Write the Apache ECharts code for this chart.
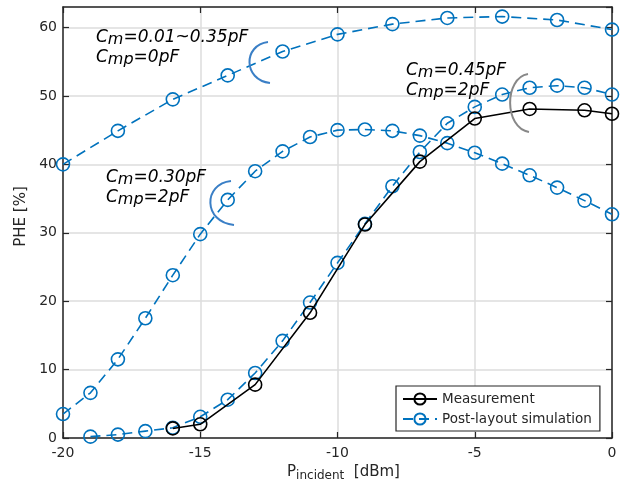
<!DOCTYPE html>
<html><head><meta charset="utf-8">
<script src="https://cdn.jsdelivr.net/npm/echarts@6/dist/echarts.min.js"></script>
<style>html,body{margin:0;padding:0;background:#fff}#c{width:624px;height:487px}</style>
</head><body><div id="c"></div>
<script>
// ---- data ----
var measX = [-16, -15, -13, -11, -9, -7, -5, -3, -1, 0];
var measY = [1.4, 2.0, 7.8, 18.3, 31.2, 40.4, 46.7, 48.1, 47.9, 47.4];

var simAX = [-20, -18, -16, -14, -12, -10, -8, -6, -4, -2, 0];
var simAY = [40.0, 44.9, 49.5, 53.0, 56.5, 59.0, 60.5, 61.4, 61.6, 61.1, 59.7];

var simBX = [-20, -19, -18, -17, -16, -15, -14, -13, -12, -11, -10, -9, -8, -7, -6, -5, -4, -3, -2, -1, 0];
var simBY = [3.5, 6.6, 11.5, 17.5, 23.8, 29.8, 34.8, 39.0, 41.9, 44.0, 45.0, 45.1, 44.9, 44.2, 43.1, 41.7, 40.1, 38.4, 36.6, 34.7, 32.7];

var simCX = [-19, -18, -17, -16, -15, -14, -13, -12, -11, -10, -9, -8, -7, -6, -5, -4, -3, -2, -1, 0];
var simCY = [0.2, 0.5, 1.0, 1.5, 3.1, 5.6, 9.5, 14.2, 19.8, 25.6, 31.3, 36.8, 41.8, 46.0, 48.4, 50.2, 51.2, 51.5, 51.2, 50.2];

var xTicks = [-20, -15, -10, -5, 0];
var yTicks = [0, 10, 20, 30, 40, 50, 60];
var legendNames = ['Measurement', 'Post-layout simulation'];

function pairs(xs, ys) { return xs.map(function (x, i) { return [x, ys[i]]; }); }

var BLUE = '#0072BD', DARK = '#262626', FONT = 'DejaVu Sans';

function simSeries(xs, ys) {
  return {
    name: legendNames[1], type: 'line', data: pairs(xs, ys),
    symbol: 'circle', symbolSize: 13,
    itemStyle: { color: 'rgba(255,255,255,0)', borderColor: BLUE, borderWidth: 1.6 },
    lineStyle: { color: BLUE, width: 1.6, type: [10, 6] },
    emphasis: { disabled: true }, animation: false, z: 3
  };
}

var chart = echarts.init(document.getElementById('c'), null, { renderer: 'canvas' });

var subRich = {
  n: { fontFamily: FONT, fontStyle: 'italic', fontSize: 17, color: DARK, lineHeight: 20 },
  s: { fontFamily: FONT, fontStyle: 'italic', fontSize: 16, color: DARK, lineHeight: 20, padding: [4, 0, 0, 0] }
};
function annText(x, y, line1, line2) {
  return {
    type: 'text', left: x, top: y, z: 10,
    style: { text: '{n|C}{s|m}{n|' + line1 + '}\n{n|C}{s|mp}{n|' + line2 + '}', rich: subRich }
  };
}
function bracket(p, color) {
  return {
    type: 'bezierCurve', z: 10,
    shape: { x1: p[0], y1: p[1], cpx1: p[2], cpy1: p[3], cpx2: p[4], cpy2: p[5], x2: p[6], y2: p[7] },
    style: { stroke: color, lineWidth: 2, fill: null }
  };
}

chart.setOption({
  animation: false,
  backgroundColor: '#fff',
  grid: { left: 63, right: 12, top: 7, bottom: 49, show: false },
  legend: {
    data: [
      { name: legendNames[0] },
      { name: legendNames[1] }
    ],
    orient: 'vertical', left: 396, top: 386,
    itemWidth: 34, itemHeight: 14, itemGap: 6,
    padding: [6, 8, 5, 6],
    borderColor: DARK, borderWidth: 1.2, backgroundColor: '#fff',
    textStyle: { fontFamily: FONT, fontSize: 13.5, color: DARK }
  },
  xAxis: [{
    type: 'value', min: -20, max: 0, interval: 5, position: 'bottom',
    axisLine: { show: true, onZero: false, lineStyle: { color: DARK, width: 1.5 } },
    axisTick: { show: true, inside: true, length: 6, lineStyle: { color: DARK, width: 1.2 } },
    axisLabel: { fontFamily: FONT, fontSize: 14, color: DARK, margin: 8,
      formatter: function (v) { return xTicks.indexOf(v) >= 0 ? String(v) : ''; } },
    splitLine: { show: true, lineStyle: { color: '#dcdcdc', width: 1.5 } },
    name: '{p|P}{s|incident}{p|  [dBm]}', nameLocation: 'middle', nameGap: 21,
    nameTextStyle: { padding: [0, 0, 0, 12], rich: {
      p: { fontFamily: FONT, fontSize: 15, color: DARK },
      s: { fontFamily: FONT, fontSize: 12, color: DARK, padding: [7, 0, 0, 0] }
    } }
  }, {
    type: 'value', min: -20, max: 0, interval: 5, position: 'top',
    axisLine: { show: true, onZero: false, lineStyle: { color: DARK, width: 1.5 } },
    axisTick: { show: true, inside: true, length: 6, lineStyle: { color: DARK, width: 1.2 } },
    axisLabel: { show: false }, splitLine: { show: false }
  }],
  yAxis: [{
    type: 'value', min: 0, max: 63, interval: 10, position: 'left',
    axisLine: { show: true, onZero: false, lineStyle: { color: DARK, width: 1.5 } },
    axisTick: { show: true, inside: true, length: 6, lineStyle: { color: DARK, width: 1.2 } },
    axisLabel: { fontFamily: FONT, fontSize: 14, color: DARK, margin: 6, showMaxLabel: false,
      formatter: function (v) { return yTicks.indexOf(v) >= 0 ? String(v) : ''; } },
    splitLine: { show: true, lineStyle: { color: '#dcdcdc', width: 1.5 } },
    name: 'PHE [%]', nameLocation: 'middle', nameGap: 34,
    nameTextStyle: { fontFamily: FONT, fontSize: 15, color: DARK, padding: [0, 0, 0, 12] }
  }, {
    type: 'value', min: 0, max: 63, interval: 10, position: 'right',
    axisLine: { show: true, onZero: false, lineStyle: { color: DARK, width: 1.5 } },
    axisTick: { show: true, inside: true, length: 6, lineStyle: { color: DARK, width: 1.2 } },
    axisLabel: { show: false }, splitLine: { show: false }
  }],
  series: [
    {
      name: legendNames[0], type: 'line', data: pairs(measX, measY),
      symbol: 'circle', symbolSize: 13,
      itemStyle: { color: 'rgba(255,255,255,0)', borderColor: '#000', borderWidth: 1.6 },
      lineStyle: { color: '#000', width: 1.6 },
      emphasis: { disabled: true }, z: 4
    },
    simSeries(simAX, simAY),
    simSeries(simBX, simBY),
    simSeries(simCX, simCY)
  ],
  graphic: [
    annText(96, 28, '=0.01~0.35pF', '=0pF'),
    annText(106, 168, '=0.30pF', '=2pF'),
    annText(406, 61, '=0.45pF', '=2pF'),
    bracket([268, 42, 243, 45, 243, 80, 270, 83], '#3a7fc6'),
    bracket([231, 181, 203, 184, 203, 222, 234, 225], '#3a7fc6'),
    bracket([528, 74, 504, 78, 504, 128, 529, 132], '#888888')
  ]
});
</script></body></html>
